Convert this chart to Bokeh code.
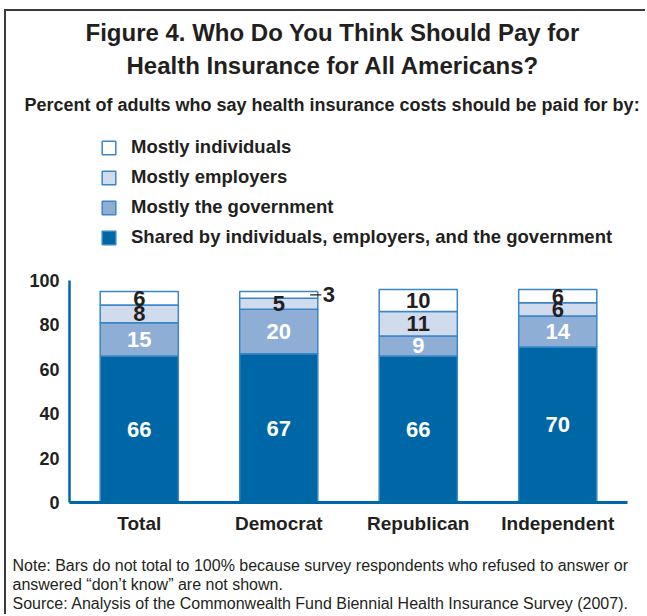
import numpy as np
from bokeh.plotting import figure
from bokeh.models import (Range1d, FactorRange, Title, Legend, LegendItem,
                          ColumnDataSource)
from bokeh.transform import dodge
from bokeh.embed import file_html
from bokeh.resources import INLINE
from bokeh.core.properties import value

# ---------------- data ----------------
categories = ["Total", "Democrat", "Republican", "Independent"]
shared = [66, 67, 66, 70]
government = [15, 20, 9, 14]
employers = [8, 5, 11, 6]
individuals = [6, 3, 10, 6]
series_names = [
    "Shared by individuals, employers, and the government",
    "Mostly the government",
    "Mostly employers",
    "Mostly individuals",
]
y_ticks = [0, 20, 40, 60, 80, 100]

title_lines = ["Figure 4. Who Do You Think Should Pay for",
               "Health Insurance for All Americans?"]
subtitle = "Percent of adults who say health insurance costs should be paid for by:"
notes = [
    "Note: Bars do not total to 100% because survey respondents who refused to answer or",
    "answered \u201cdon\u2019t know\u201d are not shown.",
    "Source: Analysis of the Commonwealth Fund Biennial Health Insurance Survey (2007).",
]

# ---------------- style / layout ----------------
FONT = "Liberation Sans"
DARK = "#231f20"
BLUE = "#0067a6"
fills = ["#0067a6", "#8eaed6", "#d0dbee", "#ffffff"]
label_colors = ["white", "white", DARK, DARK]
OUTLINE = "#3a86c6"

OX, OY = 6, 11                 # page offset of the canvas (CSS margin + border)
W, H = 647 - OX, 616 - OY
F_LEFT, F_RIGHT, F_TOP, F_BOTTOM = 69, 627, 124, 502   # frame, page coords
PX_PER_UNIT = (502 - 280) / 100.0
y_top = (F_BOTTOM - F_TOP) / PX_PER_UNIT

p = figure(x_range=FactorRange(*categories, range_padding=0),
           y_range=Range1d(0, y_top),
           width=W, height=H, output_backend="svg", toolbar_location=None,
           min_border_left=F_LEFT - OX, min_border_right=647 - F_RIGHT,
           min_border_top=F_TOP - OY, min_border_bottom=616 - F_BOTTOM,
           background_fill_color="white", border_fill_color="white",
           styles={"margin-left": "4px", "margin-top": "9px",
                   "border-top": "2px solid #3a3a3a",
                   "border-left": "2px solid #3a3a3a"})
p.outline_line_color = None
p.xgrid.visible = False
p.ygrid.visible = False
p.title.visible = False

keys = ["shared", "government", "employers", "individuals"]
vals = [shared, government, employers, individuals]
source = ColumnDataSource(dict(cat=categories, shared=shared, government=government,
                               employers=employers, individuals=individuals))
rs = p.vbar_stack(keys, x="cat", width=0.56, fill_color=fills,
                  line_color=OUTLINE, line_width=1.5, source=source)

bottom = np.zeros(len(categories))
out_x, out_y, out_t = [], [], []
for k, v, tc in zip(keys, vals, label_colors):
    v = np.array(v, dtype=float)
    mid = bottom + v / 2
    in_x, in_y, in_t = [], [], []
    for c, m, val in zip(categories, mid, v):
        if val < 4:
            out_x.append(c); out_y.append(m); out_t.append(str(int(val)))
        else:
            in_x.append(c); in_y.append(m); in_t.append(str(int(val)))
    src = ColumnDataSource(dict(cat=in_x, y=in_y, t=in_t))
    p.text(x="cat", y="y", text="t", source=src, text_align="center",
           text_baseline="middle", text_font=value(FONT), text_font_style="bold",
           text_font_size="22px", text_color=tc)
    bottom += v

if out_x:
    osrc = ColumnDataSource(dict(cat=out_x, y=out_y, t=out_t))
    p.segment(x0=dodge("cat", 0.225, range=p.x_range), y0="y",
              x1=dodge("cat", 0.305, range=p.x_range), y1="y",
              source=osrc, line_color=DARK, line_width=1.2)
    p.text(x=dodge("cat", 0.315, range=p.x_range), y="y", text="t", source=osrc,
           text_align="left", text_baseline="middle", text_font=value(FONT),
           text_font_style="bold", text_font_size="22px", text_color=DARK)

p.xaxis.axis_line_color = BLUE
p.xaxis.axis_line_width = 3
p.xaxis.major_tick_line_color = None
p.xaxis.minor_tick_line_color = None
p.xaxis.major_tick_out = 0
p.xaxis.major_tick_in = 0
p.xaxis.major_label_text_font = FONT
p.xaxis.major_label_text_font_style = "bold"
p.xaxis.major_label_text_font_size = "19px"
p.xaxis.major_label_text_color = DARK
p.xaxis.major_label_standoff = 10

p.yaxis.ticker = y_ticks
p.yaxis.bounds = (0, 100)
p.yaxis.axis_line_color = BLUE
p.yaxis.axis_line_width = 2.5
p.yaxis.major_tick_line_color = None
p.yaxis.minor_tick_line_color = None
p.yaxis.major_tick_out = 0
p.yaxis.major_tick_in = 0
p.yaxis.major_label_text_font = FONT
p.yaxis.major_label_text_font_style = "bold"
p.yaxis.major_label_text_font_size = "18px"
p.yaxis.major_label_text_color = DARK
p.yaxis.major_label_standoff = 10

legend = Legend(items=[LegendItem(label=series_names[i], renderers=[rs[i]]) for i in [3, 2, 1, 0]],
                location=(100 - F_LEFT, F_BOTTOM - 248), orientation="vertical",
                padding=0, spacing=8, margin=0, glyph_width=17, glyph_height=17,
                label_standoff=14, label_text_font=FONT, label_text_font_style="bold",
                label_text_font_size="18.5px", label_text_color=DARK,
                border_line_color=None, background_fill_alpha=0)
p.add_layout(legend)


def add_title(txt, place, size, style, standoff, left_px, valign="bottom",
              pad_top=0, line_height=1.2):
    p.add_layout(Title(text=txt, align="left", offset=left_px - F_LEFT,
                       standoff=standoff, vertical_align=valign,
                       padding=dict(left=0, right=0, top=pad_top, bottom=0),
                       text_font=FONT, text_font_style=style, text_font_size=size,
                       text_color=DARK, text_line_height=line_height), place)


# above: innermost first
add_title(subtitle, "above", "18px", "bold", 20, 24)
add_title(title_lines[1], "above", "24px", "bold", 8, 126)
add_title(title_lines[0], "above", "24px", "bold", 0, 85)

# below: notes block
add_title("\n".join(notes), "below", "16px", "normal", 0, 12, valign="top",
          pad_top=20, line_height=1.125)

open("out.html", "w").write(file_html(p, INLINE))
